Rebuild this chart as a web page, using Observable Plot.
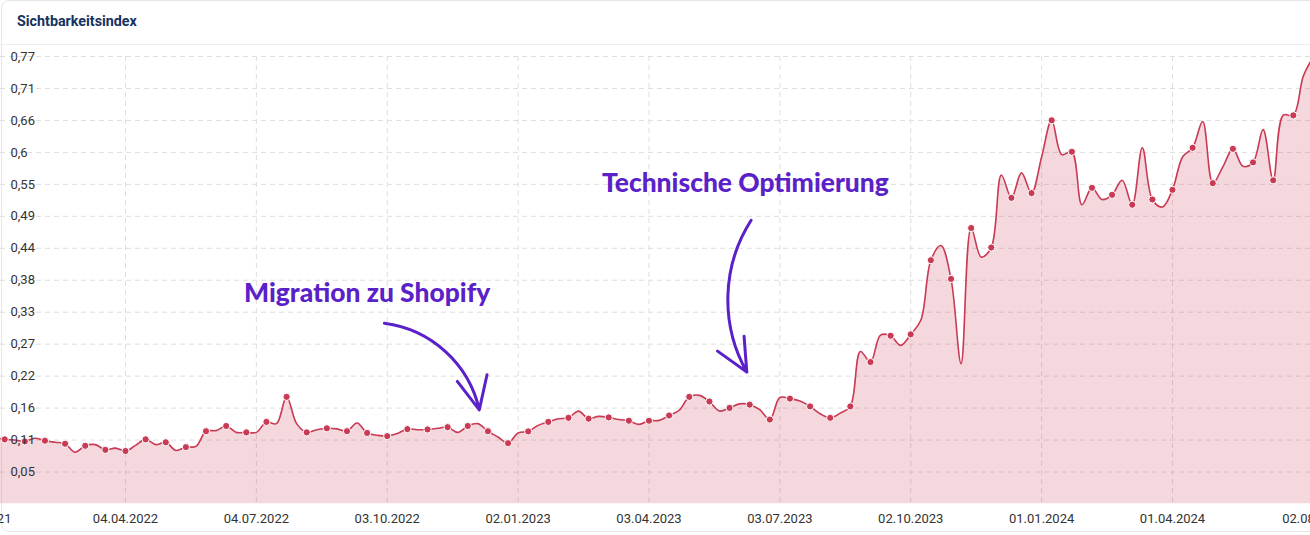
<!DOCTYPE html>
<html><head><meta charset="utf-8">
<script src="https://cdn.jsdelivr.net/npm/d3@7"></script>
<script src="https://cdn.jsdelivr.net/npm/@observablehq/plot@0.6"></script>
<style>
html,body{margin:0;padding:0;background:#fff;overflow:hidden;width:1310px;height:535px;}
#card{position:absolute;left:1px;top:0;width:1360px;height:532px;border:1px solid #e6e6e6;border-radius:8px;box-sizing:border-box;background:#fff;}
#head{position:absolute;left:0;top:0;width:1310px;height:45px;border-bottom:1px solid #ededed;box-sizing:border-box;}
#title{position:absolute;left:17px;top:13px;font:bold 14.3px Roboto, sans-serif;line-height:17px;color:#16325f;}
#chart{position:absolute;left:0;top:45px;width:1310px;height:488px;overflow:hidden;}
</style>
</head><body>
<div id="card"></div>
<div id="head"><div id="title">Sichtbarkeitsindex</div></div>
<div id="chart"></div>
<script>
// weekly values (Mondays), starting 03.01.2022
const startWeek = "2022-01-03";
const values = [
0.114, 0.111, 0.110, 0.1075, 0.113, 0.1087, 0.106, 0.1035, 0.089, 0.100,
0.102, 0.093, 0.096, 0.091, 0.1006, 0.111, 0.102, 0.106, 0.092, 0.0977,
0.099, 0.125, 0.126, 0.134, 0.123, 0.123, 0.123, 0.141, 0.138, 0.184,
0.138, 0.123, 0.1276, 0.130, 0.129, 0.125, 0.139, 0.122, 0.118, 0.1166,
0.121, 0.1286, 0.1276, 0.128, 0.130, 0.132, 0.123, 0.134, 0.138, 0.125,
0.115, 0.1045, 0.122, 0.1247, 0.135, 0.141, 0.1465, 0.148, 0.1596, 0.1465,
0.1505, 0.1487, 0.145, 0.143, 0.1367, 0.143, 0.1436, 0.152, 0.161, 0.184,
0.1866, 0.176, 0.1596, 0.165, 0.172, 0.1706, 0.162, 0.145, 0.183, 0.181,
0.1768, 0.1676, 0.155, 0.148, 0.156, 0.1676, 0.262, 0.2438, 0.29, 0.289,
0.2725, 0.2914, 0.3155, 0.4187, 0.444, 0.3866, 0.241, 0.474, 0.424, 0.4405,
0.565, 0.5258, 0.5688, 0.534, 0.596, 0.659, 0.600, 0.605, 0.514, 0.543,
0.523, 0.531, 0.556, 0.514, 0.612, 0.523, 0.510, 0.5396, 0.596, 0.6118,
0.657, 0.551, 0.579, 0.610, 0.58, 0.5867, 0.643, 0.556, 0.668, 0.6675,
0.735, 0.768
];
const xDomain = ["2022-01-07T02:02Z", "2024-07-05T22:48Z"];
const xTickDates = ["2021-12-23","2022-04-04","2022-07-04","2022-10-03","2023-01-02","2023-04-03","2023-07-03","2023-10-02","2024-01-01","2024-04-01","2024-07-09"];
const xTickLabels = ["23.12.2021","04.04.2022","04.07.2022","03.10.2022","02.01.2023","03.04.2023","03.07.2023","02.10.2023","01.01.2024","01.04.2024","02.08.2024"];
const yTicks = [0.0549, 0.1098, 0.1647, 0.2196, 0.2745, 0.3294, 0.3843, 0.4392, 0.4941, 0.549, 0.6039, 0.6588, 0.7137, 0.7686];
const yTickLabels = ["0,05","0,11","0,16","0,22","0,27","0,33","0,38","0,44","0,49","0,55","0,6","0,66","0,71","0,77"];
const noteTexts = ["Migration zu Shopify", "Technische Optimierung"];
const noteDates = ["2022-09-19", "2023-06-09"];
const noteValues = [0.362, 0.551];
const arrowStart = [["2022-10-01", 0.3104], ["2023-06-13", 0.4874]];
const arrowEnd = [["2022-12-06", 0.1616], ["2023-06-10", 0.2266]];

const t0 = new Date(startWeek + "T00:00Z");
const data = values.map((v, i) => ({date: d3.utcDay.offset(t0, 7 * i), value: v, marker: i % 2 === 1}));
const dom = xDomain.map(d => new Date(d));
const ticks = xTickDates.map(d => new Date(d + "T00:00Z"));
const gridDates = ticks.filter(d => d >= dom[0] && d <= dom[1]);
const notes = noteTexts.map((t, i) => ({text: t, date: new Date(noteDates[i] + "T00:00Z"), value: noteValues[i]}));
const arrows = arrowStart.map((s, i) => ({x1: new Date(s[0] + "T00:00Z"), y1: s[1], x2: new Date(arrowEnd[i][0] + "T00:00Z"), y2: arrowEnd[i][1]}));

const red = "#c93a54", purple = "#5b21c9", grid = "#dedede";
const chart = Plot.plot({
  width: 1310, height: 488,
  marginLeft: 0, marginRight: 0, marginTop: 11, marginBottom: 29.5,
  x: {type: "utc", domain: dom, axis: null},
  y: {domain: [0, yTicks[yTicks.length - 1]], axis: null},
  style: {fontFamily: "Roboto, sans-serif", fontSize: "13px", background: "transparent", overflow: "hidden"},
  marks: [
    Plot.ruleY(yTicks, {y: d => d, stroke: grid, strokeDasharray: "5,4", strokeWidth: 1}),
    Plot.ruleX(gridDates, {x: d => d, stroke: grid, strokeDasharray: "5,4", strokeWidth: 1}),
    Plot.areaY(data, {x: "date", y: "value", curve: "catmull-rom", fill: red, fillOpacity: 0.2, clip: true}),
    Plot.lineY(data, {x: "date", y: "value", curve: "catmull-rom", stroke: red, strokeWidth: 1.6, clip: true}),
    Plot.dot(data.filter(d => d.marker), {x: "date", y: "value", r: 3.6, fill: red, stroke: "white", strokeWidth: 1, clip: true}),
    Plot.text(yTicks, {y: d => d, text: (d, i) => yTickLabels[i], frameAnchor: "left", dx: 10, textAnchor: "start", fill: "#333", fontSize: 13}),
    Plot.text(ticks, {x: d => d, text: (d, i) => xTickLabels[i], frameAnchor: "bottom", dy: 14.5, lineAnchor: "middle", fill: "#333", fontSize: 13}),
    Plot.text(notes, {x: "date", y: "value", text: "text", fill: purple, fontSize: 26.4, fontWeight: 900, fontFamily: "Lato, sans-serif", lineAnchor: "middle"}),
    Plot.arrow(arrows.slice(0, 1), {x1: "x1", y1: "y1", x2: "x2", y2: "y2", bend: 35, stroke: purple, strokeWidth: 3, headLength: 18, headAngle: 50, strokeLinecap: "round"}),
    Plot.arrow(arrows.slice(1, 2), {x1: "x1", y1: "y1", x2: "x2", y2: "y2", bend: -31, stroke: purple, strokeWidth: 3, headLength: 18, headAngle: 50, strokeLinecap: "round"})
  ]
});
document.getElementById("chart").appendChild(chart);
</script>
</body></html>
